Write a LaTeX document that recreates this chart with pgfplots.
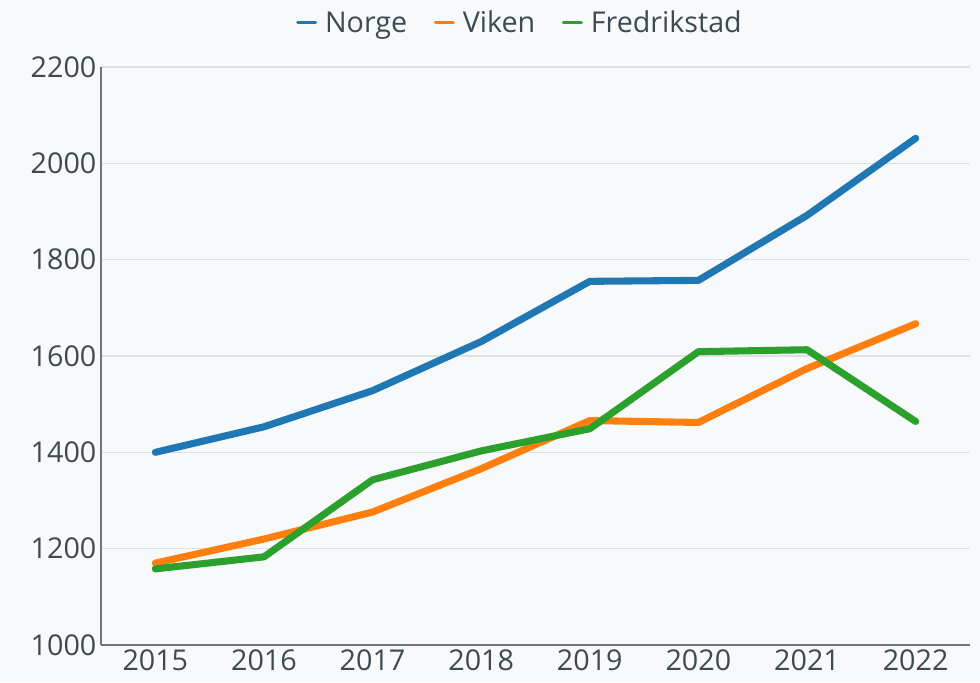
\documentclass[border=0pt]{standalone}
\usepackage{fontspec}
\setmainfont{Open Sans}
\usepackage{pgfplots}
\pgfplotsset{compat=1.18}
\definecolor{bgc}{HTML}{F8F9FA}
\definecolor{gridc}{HTML}{DDE1E6}
\definecolor{axc}{HTML}{6B7780}
\definecolor{txtc}{HTML}{3D4A52}
\definecolor{cnorge}{HTML}{1F77B4}
\definecolor{cviken}{HTML}{FF7F0E}
\definecolor{cfred}{HTML}{2CA02C}
\begin{document}
\begin{tikzpicture}
\fill[bgc] (-75.75pt,-27.75pt) rectangle (659.25pt,483.75pt);
\begin{axis}[
  at={(0,0)}, anchor=south west,
  scale only axis, width=651.75pt, height=433.5pt,
  xmin=2014.5, xmax=2022.5, ymin=1000, ymax=2200,
  xtick={2015,...,2022}, ytick={1000,1200,...,2200},
  /pgf/number format/assume math mode=true,
  /pgf/number format/1000 sep={},
  major tick length=0pt,
  axis lines=left,
  axis line style={draw=axc, line width=1.4pt, -},
  ymajorgrids, grid style={draw=gridc, line width=1.1pt},
  tick label style={font=\fontsize{21.5}{26}\selectfont, text=txtc},
  clip=false,
  legend style={at={(rel axis cs:0.4825,1.0)}, anchor=south, yshift=22pt, draw=none, fill=none,
    font=\fontsize{21.5}{26}\selectfont, text=txtc, legend columns=-1,
    /tikz/every even column/.append style={column sep=18pt},
    /tikz/every odd column/.append style={column sep=4pt},
    inner sep=0pt, cells={anchor=west}},
  legend image code/.code={\draw[line width=2.2pt, #1] (0pt,0pt) -- (13.5pt,0pt);},
  every axis plot/.append style={line width=5.3pt, line cap=round, line join=round},
]
\addplot[cnorge] coordinates {(2015,1400) (2016,1453) (2017,1528) (2018,1630) (2019,1755) (2020,1757) (2021,1892) (2022,2052)};
\addlegendentry{Norge}
\addplot[cviken] coordinates {(2015,1170) (2016,1220) (2017,1276) (2018,1366) (2019,1466) (2020,1462) (2021,1574) (2022,1667)};
\addlegendentry{Viken}
\addplot[cfred] coordinates {(2015,1158) (2016,1183) (2017,1343) (2018,1403) (2019,1449) (2020,1609) (2021,1613) (2022,1464)};
\addlegendentry{Fredrikstad}
\end{axis}
\end{tikzpicture}
\end{document}
